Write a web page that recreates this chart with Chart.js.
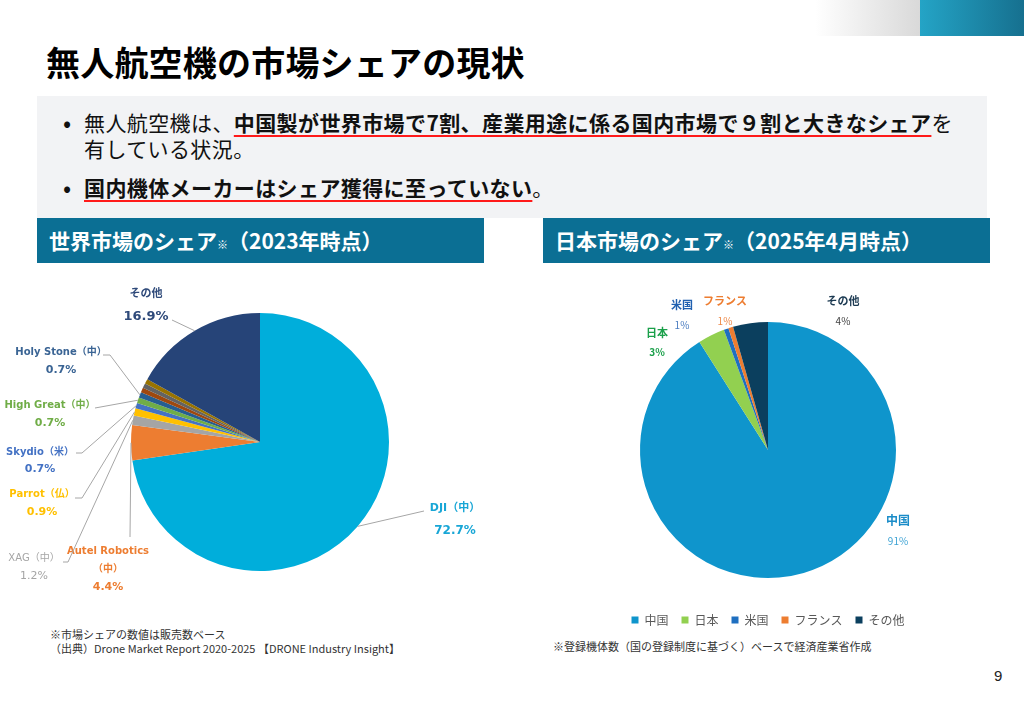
<!DOCTYPE html>
<html lang="ja">
<head>
<meta charset="utf-8">
<script src="https://cdn.jsdelivr.net/npm/chart.js@4.4.1/dist/chart.umd.min.js"></script>
<style>
  body { margin: 0; background: #fff; font-family: "Noto Sans CJK JP", "Noto Sans", sans-serif; }
  #page { position: relative; width: 1024px; height: 709px; overflow: hidden; background: #fff; }
  .deco1 { position: absolute; left: 815px; top: 0; width: 105px; height: 36px; background: linear-gradient(to right, #ffffff, #d9d9d9); }
  .deco2 { position: absolute; left: 920px; top: 0; width: 104px; height: 36px; background: linear-gradient(to right, #24a4c6, #16708f); }
  h1 { position: absolute; left: 46px; top: 42px; margin: 0; font-size: 34px; font-weight: 700; color: #000; line-height: 40px; letter-spacing: 0.2px; }
  #box { position: absolute; left: 37px; top: 96px; width: 950px; height: 122px; background: #f2f3f5; }
  #box ul { margin: 0; padding: 0; list-style: none; }
  #box li { position: absolute; left: 47px; font-size: 21px; line-height: 26px; color: #111; letter-spacing: 0.4px; }
  #box li::before { content: "•"; position: absolute; left: -21px; top: 0; font-size: 24px; }
  #box b { font-weight: 700; text-decoration: underline; text-decoration-color: #ff1a1a; text-decoration-thickness: 2px; text-underline-offset: 4px; }
  .bar { position: absolute; top: 218px; height: 45px; width: 447px; background: #0b6f94; color: #fff; font-weight: 700; font-size: 21px; line-height: 45px; padding-left: 12px; box-sizing: border-box; }
  .bar small { font-size: 11px; font-weight: 400; }
  .note { position: absolute; font-size: 11px; color: #333; line-height: 14px; }
  #world { position: absolute; left: 0; top: 270px; }
  #japan { position: absolute; left: 520px; top: 270px; }
  .pg { position: absolute; left: 994px; top: 667px; font-size: 15px; color: #222; font-family: "Liberation Sans", sans-serif; }
</style>
</head>
<body>
<div id="page">
  <div class="deco1"></div>
  <div class="deco2"></div>
  <h1>無人航空機の市場シェアの現状</h1>
  <div id="box">
    <ul>
      <li style="top:13px">無人航空機は、<b>中国製が世界市場で7割、産業用途に係る国内市場で９割と大きなシェア</b>を<br>有している状況。</li>
      <li style="top:78px"><b>国内機体メーカーはシェア獲得に至っていない</b>。</li>
    </ul>
  </div>
  <div class="bar" style="left:37px">世界市場のシェア<small>※</small>（2023年時点）</div>
  <div class="bar" style="left:543px">日本市場のシェア<small>※</small>（2025年4月時点）</div>
  <canvas id="world" width="520" height="344"></canvas>
  <canvas id="japan" width="496" height="366"></canvas>
  <div class="note" style="left:50px;top:627px">※市場シェアの数値は販売数ベース<br>（出典）Drone Market Report 2020-2025 【DRONE Industry Insight】</div>
  <div class="note" style="left:553px;top:639px">※登録機体数（国の登録制度に基づく）ベースで経済産業省作成</div>
  <div class="pg">9</div>
</div>
<script>
// world market share 2023 (clockwise from 12 o'clock)
const worldNames = ['DJI（中）', 'Autel Robotics\n（中）', 'XAG（中）', 'Parrot（仏）', 'Skydio（米）', 'High Great（中）', 'Holy Stone（中）', '', '', '', 'その他'];
const worldShares = [72.7, 4.4, 1.2, 0.9, 0.7, 0.7, 0.7, 0.6, 0.6, 0.6, 16.9];
const worldColors = ['#00aedb', '#ed7d31', '#a5a5a5', '#ffc000', '#4472c4', '#70ad47', '#255e91', '#9e480e', '#636363', '#997300', '#264478'];

// japan market share, April 2025
const japanNames = ['中国', '日本', '米国', 'フランス', 'その他'];
const japanShares = [91.0, 3.4, 0.6, 0.6, 4.4];
const japanColors = ['#0f95cc', '#92d050', '#1f6fc0', '#ed7d31', '#0b3f5e'];

// label placement, offsets from the pie centre
const worldSpots = [
  { at: [195, 66], gap: 23, line: [164, 69], color: '#18a6d6', nameSize: 11, pctSize: 12 },
  { at: [-152, 109], gap: 18, line: [-130, 95], color: '#ed7d31' },
  { at: [-226, 116], gap: 18, line: [-197, 120], h: 5, color: '#a5a5a5', weight: 'normal' },
  { at: [-218, 52], gap: 18, line: [-185, 56], h: 7, color: '#ffc000' },
  { at: [-220, 10], gap: 17, line: [-184, 11], h: 6, color: '#4472c4' },
  { at: [-210, -37], gap: 18, line: [-165, -34], color: '#70ad47' },
  { at: [-199, -90], gap: 18, line: [-157, -87], h: 7, color: '#3a6494' },
  null, null, null,
  { at: [-114, -148], gap: 23, line: [-88, -122], color: '#2f4a7a', nameSize: 11, pctSize: 13 }
];
const japanSpots = [
  { at: [130, 70], gap: 21, color: '#1a8cc8', pctColor: '#3ea3d4', nameSize: 12 },
  { at: [-111, -117], gap: 19, color: '#1aa04a', pctColor: '#1aa04a', pctBold: true },
  { at: [-86, -145], gap: 20, color: '#2060b0', pctColor: '#4a7cc0' },
  { at: [-43, -149], gap: 20, color: '#ed7d31', pctColor: '#ee8a4a' },
  { at: [75, -149], gap: 20, color: '#1c3a52', pctColor: '#404040' }
];

const pieLabels = {
  id: 'pieLabels',
  afterDatasetsDraw(chart, args, opts) {
    const ctx = chart.ctx;
    const meta = chart.getDatasetMeta(0);
    const values = chart.data.datasets[0].data;
    ctx.save();
    meta.data.forEach((arc, i) => {
      const spot = opts.spots[i];
      if (!spot) return;
      const p = arc.getProps(['x', 'y', 'startAngle', 'endAngle', 'outerRadius'], true);
      if (spot.line) {
        const mid = (p.startAngle + p.endAngle) / 2;
        const ax = p.x + Math.cos(mid) * p.outerRadius;
        const ay = p.y + Math.sin(mid) * p.outerRadius;
        const lx = p.x + spot.line[0], ly = p.y + spot.line[1];
        ctx.strokeStyle = '#a6a6a6';
        ctx.lineWidth = 1;
        ctx.beginPath();
        ctx.moveTo(ax, ay);
        if (spot.h) ctx.lineTo(lx + spot.h, ly);
        ctx.lineTo(lx, ly);
        ctx.stroke();
      }
      const lines = chart.data.labels[i].split('\n');
      lines.push(opts.format(values[i]));
      ctx.textAlign = 'center';
      ctx.textBaseline = 'middle';
      lines.forEach((t, k) => {
        const last = k === lines.length - 1;
        let weight = spot.weight || 'bold';
        if (last && opts.pctNormal && !spot.pctBold) weight = 'normal';
        const size = last ? (spot.pctSize || opts.pctSize) : (spot.nameSize || opts.nameSize);
        ctx.font = weight + ' ' + size + 'px ' + opts.family;
        ctx.fillStyle = last && spot.pctColor ? spot.pctColor : spot.color;
        ctx.fillText(t, p.x + spot.at[0], p.y + spot.at[1] + k * spot.gap);
      });
    });
    ctx.restore();
  }
};

new Chart(document.getElementById('world'), {
  type: 'pie',
  data: {
    labels: worldNames,
    datasets: [{ data: worldShares, backgroundColor: worldColors, borderWidth: 0 }]
  },
  options: {
    responsive: false,
    animation: false,
    layout: { padding: { left: 131, right: 131, top: 43, bottom: 43 } },
    plugins: {
      legend: { display: false },
      tooltip: { enabled: false },
      pieLabels: {
        spots: worldSpots,
        format: v => v.toFixed(1) + '%',
        family: '"DejaVu Sans", "Noto Sans CJK JP", sans-serif',
        nameSize: 10, pctSize: 11
      }
    }
  },
  plugins: [pieLabels]
});

new Chart(document.getElementById('japan'), {
  type: 'pie',
  data: {
    labels: japanNames,
    datasets: [{ data: japanShares, backgroundColor: japanColors, borderWidth: 0, radius: 128 }]
  },
  options: {
    responsive: false,
    animation: false,
    layout: { padding: { left: 0, right: 0, top: 29, bottom: 0 } },
    plugins: {
      legend: {
        position: 'bottom',
        labels: {
          boxWidth: 7, boxHeight: 7, padding: 13, color: '#595959',
          font: { family: '"Noto Sans CJK JP", sans-serif', size: 12 }
        }
      },
      tooltip: { enabled: false },
      pieLabels: {
        spots: japanSpots,
        format: v => Math.round(v) + '%',
        family: '"Noto Sans CJK JP", "Noto Sans", sans-serif',
        nameSize: 11, pctSize: 10, pctNormal: true
      }
    }
  },
  plugins: [pieLabels]
});
</script>
</body>
</html>
